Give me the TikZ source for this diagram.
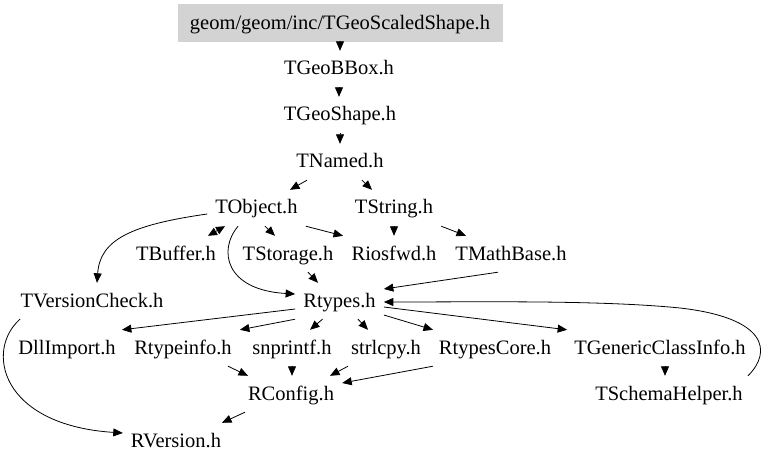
\documentclass[tikz,border=0pt]{standalone}
\usepackage{fontspec}
\setmainfont{Liberation Serif}
\usetikzlibrary{arrows.meta}
\definecolor{rootgray}{RGB}{211,211,211}
\begin{document}
\begin{tikzpicture}[x=1pt,y=-1pt,
  n/.style={font=\fontsize{20.5}{22}\selectfont, inner xsep=8pt, inner ysep=0pt, text height=24pt, text depth=12pt, anchor=base},
  rootbox/.style={n, fill=rootgray, text height=26pt, minimum width=325pt},
  e/.style={draw, -{Triangle[length=9.5pt,width=8pt]}, line width=0.8pt},
  eb/.style={draw, {Triangle[length=9pt,width=8pt]}-{Triangle[length=9pt,width=8pt]}, line width=0.8pt}]
\useasboundingbox (0,0) rectangle (768,465);
\node[rootbox] (root) at (340,30) {geom/geom/inc/TGeoScaledShape.h};
\node[n] (bbox) at (339,75) {TGeoBBox.h};
\node[n] (shape) at (340,121) {TGeoShape.h};
\node[n] (named) at (340,168) {TNamed.h};
\node[n] (tobj) at (256.5,214) {TObject.h};
\node[n] (tstr) at (394,214) {TString.h};
\node[n] (tbuf) at (176,260) {TBuffer.h};
\node[n] (tsto) at (288,260) {TStorage.h};
\node[n] (rios) at (394,260) {Riosfwd.h};
\node[n] (tmath) at (511,260) {TMathBase.h};
\node[n] (tver) at (92,307) {TVersionCheck.h};
\node[n] (rtypes) at (339.5,307) {Rtypes.h};
\node[n] (dll) at (67,354) {DllImport.h};
\node[n] (rti) at (183,354) {Rtypeinfo.h};
\node[n] (snp) at (292,354) {snprintf.h};
\node[n] (strl) at (386,354) {strlcpy.h};
\node[n] (rcore) at (495,354) {RtypesCore.h};
\node[n] (tgci) at (660,354) {TGenericClassInfo.h};
\node[n] (rconf) at (291,400) {RConfig.h};
\node[n] (tsch) at (669,400) {TSchemaHelper.h};
\node[n] (rver) at (176,447) {RVersion.h};

\path[e] (root.south) -- (root.south |- bbox.north);
\path[e] (bbox.south) -- (bbox.south |- shape.north);
\path[e] (shape.south) -- (shape.south |- named.north);
\path[e] ([xshift=-33pt]named.south) -- ([xshift=33.5pt]tobj.north);
\path[e] ([xshift=22pt]named.south) -- ([xshift=-22pt]tstr.north);
\path[eb] ([xshift=-31.5pt]tobj.south) -- ([xshift=32pt]tbuf.north);
\path[e] ([xshift=8.5pt]tobj.south) -- ([xshift=-13pt]tsto.north);
\path[e] (tobj.south east) -- ([xshift=-51pt]rios.north);
\path[e] (tstr.south) -- (tstr.south |- rios.north);
\path[e] (tstr.south east) -- ([xshift=-45pt]tmath.north);
\path[e] ([yshift=-6pt]tobj.west) .. controls (130,225) and (100,240) .. ([xshift=5pt]tver.north);
\path[e] ([xshift=-18.5pt]tobj.south) .. controls (218,250) and (225,290) .. ([yshift=7pt]rtypes.west);
\path[e] ([xshift=20pt]tsto.south) -- ([xshift=-21.5pt]rtypes.north);
\path[e] ([xshift=-13pt]tmath.south) -- ([yshift=12pt]rtypes.east);
\path[e] ([xshift=79pt]tsch.north) .. controls (772,352) and (768,318) .. (680,308) .. controls (600,300) and (480,302) .. ([yshift=-1pt]rtypes.east);
\path[e] ([yshift=-8pt]rtypes.west) -- ([xshift=-2pt]dll.north east);
\path[e] (rtypes.south west) -- (rti.north east);
\path[e] ([xshift=-17pt]rtypes.south) -- ([xshift=18pt]snp.north);
\path[e] ([xshift=18.5pt]rtypes.south) -- ([xshift=-18pt]strl.north);
\path[e] ([yshift=-14pt]rtypes.east) -- ([xshift=-62pt]rcore.north);
\path[e] ([yshift=-6pt]rtypes.east) -- ([xshift=1pt]tgci.north west);
\path[e] ([xshift=5pt]tgci.south) -- ([xshift=-4pt]tsch.north);
\path[e] ([xshift=45pt]rti.south) -- ([xshift=-43pt]rconf.north);
\path[e] (snp.south) -- (snp.south |- rconf.north);
\path[e] ([xshift=-38pt]strl.south) -- ([xshift=39pt]rconf.north);
\path[e] ([xshift=-62pt]rcore.south) -- ([yshift=11pt]rconf.east);
\path[e] ([xshift=-46pt]rconf.south) -- ([xshift=46pt]rver.north);
\path[e] ([xshift=-72pt]tver.south) .. controls (-15,350) and (0,425) .. ([yshift=8pt]rver.west);
\end{tikzpicture}
\end{document}
